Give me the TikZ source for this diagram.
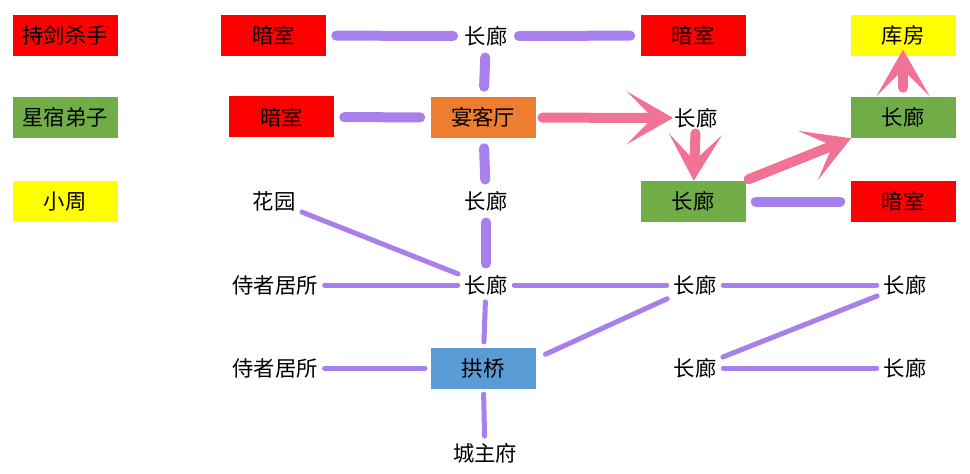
\documentclass[tikz,border=0pt]{standalone}
\usepackage{fontspec}
\usepackage{tikz}
\usetikzlibrary{arrows.meta}
\newfontfamily\cjk{Noto Sans CJK SC}
\definecolor{roomred}{RGB}{255,0,0}
\definecolor{grassgreen}{RGB}{112,173,71}
\definecolor{sunyellow}{RGB}{255,255,0}
\definecolor{hallorange}{RGB}{237,125,49}
\definecolor{bridgeblue}{RGB}{91,155,213}
\definecolor{wayviolet}{RGB}{168,128,236}
\definecolor{runpink}{RGB}{242,114,150}
\tikzset{
  >={Stealth[length=35pt, width=40pt, inset=20pt, line width=0pt]},
  room/.style={minimum width=78.75pt, minimum height=30.75pt, inner sep=0pt, font=\cjk\fontsize{16pt}{19pt}\selectfont},
  spot/.style={inner sep=1pt, font=\cjk\fontsize{16pt}{19pt}\selectfont},
  wide/.style={draw=wayviolet, line width=7.5pt, line cap=round, shorten <=7.5pt, shorten >=7.5pt},
  slim/.style={draw=wayviolet, line width=3.75pt, line cap=round, shorten <=4pt, shorten >=4pt},
  run/.style={->, draw=runpink, fill=runpink, line width=7.5pt, line cap=round},
}
\newcommand{\CL}{长廊}
\newcommand{\AS}{暗室}

\begin{document}
\begin{tikzpicture}[x=0.75pt, y=-0.75pt]
  \useasboundingbox (0,0) rectangle (970,474);
  % legend
  \node[room, fill=roomred] (kill) at (65,35.5) {持剑杀手};
  \node[room, fill=grassgreen] (star) at (65,117.5) {星宿弟子};
  \node[room, fill=sunyellow] (zhou) at (65,201.5) {小周};
  % rooms and corridors
  \node[room, fill=roomred] (dark1) at (273.5,35.5) {\AS};
  \node[spot] (cl1) at (486,36) {\CL};
  \node[room, fill=roomred] (dark2) at (693,35.5) {\AS};
  \node[room, fill=sunyellow] (store) at (903,35.5) {库房};
  \node[room, fill=roomred] (dark3) at (281.5,117) {\AS};
  \node[room, fill=hallorange] (hall) at (483,117.5) {宴客厅};
  \node[spot] (cl2) at (696,118) {\CL};
  \node[room, fill=grassgreen] (cl3) at (903,117.5) {\CL};
  \node[spot] (garden) at (274,201) {花园};
  \node[spot] (cl4) at (486,201) {\CL};
  \node[room, fill=grassgreen] (cl5) at (693,201.5) {\CL};
  \node[room, fill=roomred] (dark4) at (903,201.5) {\AS};
  \node[spot] (serv1) at (275,285) {侍者居所};
  \node[spot] (cl6) at (486,285) {\CL};
  \node[spot] (cl7) at (695,285) {\CL};
  \node[spot] (cl8) at (905,285) {\CL};
  \node[spot] (serv2) at (275,368) {侍者居所};
  \node[room, fill=bridgeblue] (bridge) at (483,368) {拱桥};
  \node[spot] (cl9) at (695,368) {\CL};
  \node[spot] (cl10) at (905,368) {\CL};
  \node[spot] (lord) at (485,453) {城主府};

  % passages
  \draw[wide] (dark1) -- (cl1);
  \draw[wide] (cl1) -- (dark2);
  \draw[wide] (cl1) -- (hall);
  \draw[wide] (dark3) -- (hall);
  \draw[wide] (hall) -- (cl4);
  \draw[wide] (cl4) -- (cl6);
  \draw[wide] (cl5) -- (dark4);
  \draw[slim] (garden) -- (cl6);
  \draw[slim] (serv1) -- (cl6);
  \draw[slim] (cl6) -- (cl7);
  \draw[slim] (cl6) -- (bridge);
  \draw[slim, shorten <=8pt] (bridge.10) -- (cl7.south west);
  \draw[slim] (serv2) -- (bridge);
  \draw[slim] (bridge) -- (lord);
  \draw[slim] (cl7) -- (cl8);
  \draw[slim] (cl8) -- (cl9);
  \draw[slim] (cl9) -- (cl10);

  % route
  \draw[run, shorten <=5pt] (hall) -- (cl2);
  \draw[run, shorten <=3pt] (cl2) -- (cl5);
  \draw[run, shorten <=3pt] (cl5) -- (cl3);
  \draw[run, shorten <=6.75pt, shorten >=-5pt] (cl3) -- (store);
\end{tikzpicture}
\end{document}
